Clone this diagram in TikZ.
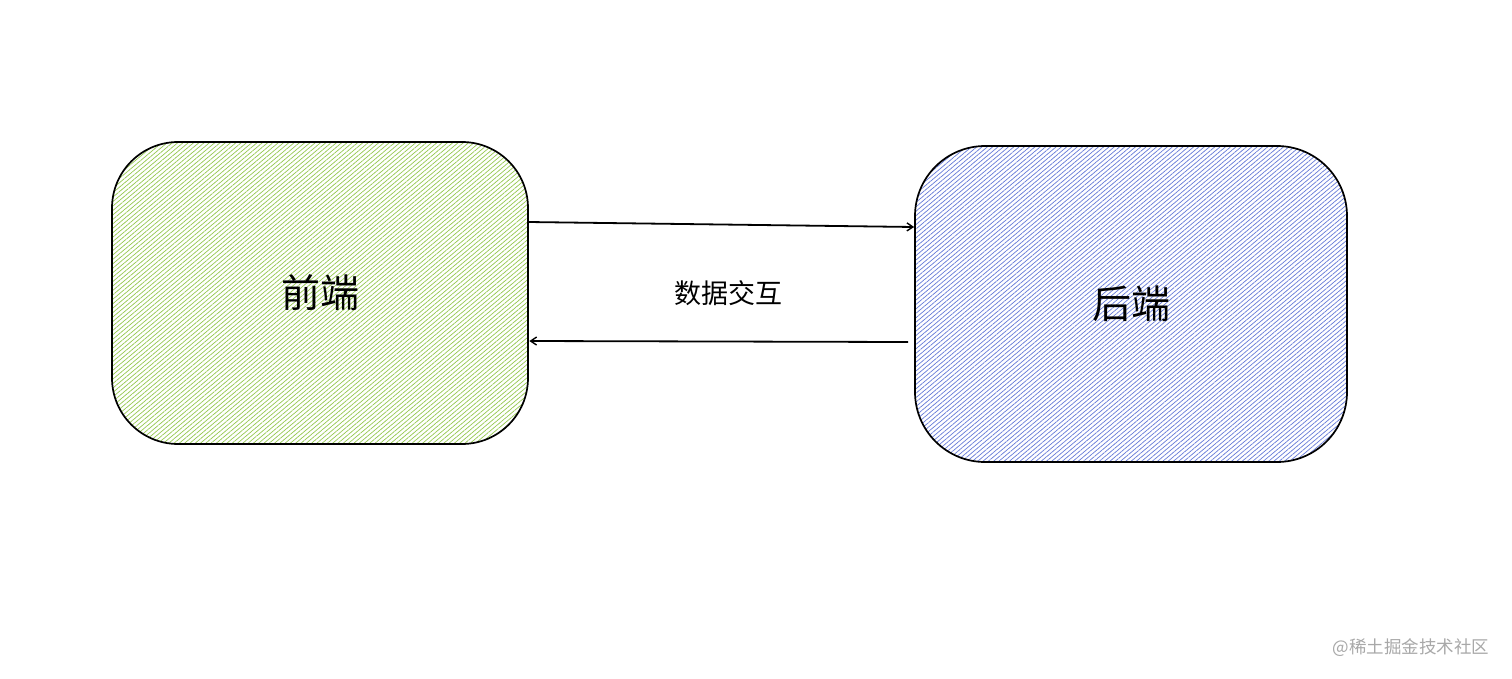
\documentclass[tikz,border=0pt]{standalone}
\usepackage{fontspec}
\newfontfamily\cjk{Noto Sans CJK SC}
\usetikzlibrary{patterns.meta,arrows.meta}
\definecolor{hatchgreen}{HTML}{94C84E}
\definecolor{hatchblue}{HTML}{6579D8}
\definecolor{wmgray}{HTML}{A8A8A8}
\tikzset{
  boxstyle/.style={draw=black, line width=1.7pt, inner sep=0pt, font=\cjk\fontsize{39}{42}\selectfont},
  greenbox/.style={boxstyle, rounded corners=66pt, minimum width=416pt, minimum height=302pt,
    pattern={Lines[angle=40,distance=3.4pt,line width=0.7pt]}, pattern color=hatchgreen},
  bluebox/.style={boxstyle, rounded corners=70pt, minimum width=432pt, minimum height=316pt,
    pattern={Lines[angle=40,distance=3.4pt,line width=0.7pt]}, pattern color=hatchblue},
  conn/.style={draw=black, line width=1.8pt, -{Straight Barb[length=6pt,width=8pt,line width=1.4pt]}},
}
\begin{document}
\begin{tikzpicture}[x=1pt,y=-1pt]
\useasboundingbox (0,0) rectangle (1512,678);
\fill[white] (0,0) rectangle (1512,678);
\node[greenbox] (fe) at (320,293) {前端};
\node[bluebox] (be) at (1131,304) {后端};
\node[font=\cjk\fontsize{27}{30}\selectfont] (lbl) at (728,293) {数据交互};
\draw[conn] ([yshift=71pt]fe.east) -- ([yshift=77pt]be.west);
\draw[conn] ([yshift=-38pt,xshift=-6pt]be.west) -- ([yshift=-48pt,xshift=1pt]fe.east);
\node[font=\cjk\fontsize{17.5}{20}\selectfont, text=wmgray] (wm) at (1411,648) {@稀土掘金技术社区};
\end{tikzpicture}
\end{document}
